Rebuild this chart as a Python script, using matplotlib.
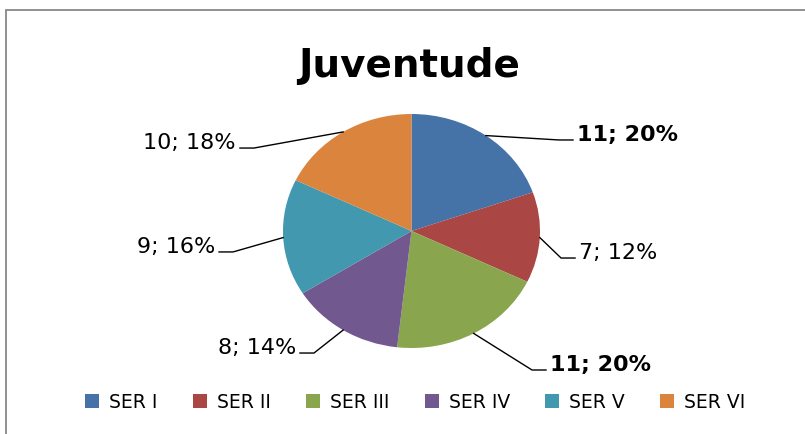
import numpy as np
import matplotlib
matplotlib.use('Agg')
import matplotlib.pyplot as plt
from matplotlib.patches import Rectangle

plt.rcParams['font.family'] = ['DejaVu Sans']

# data
series = ['SER I', 'SER II', 'SER III', 'SER IV', 'SER V', 'SER VI']
values = [11, 7, 11, 8, 9, 10]
percents = [20, 12, 20, 14, 16, 18]

colors = ['#4572A7', '#AA4643', '#89A54E', '#71588F', '#4198AF', '#DB843D']
bold = [True, False, True, False, False, False]
# where each label's text is anchored (pie axes units, radius = 1)
label_pos = [(1.288, 0.778), (1.304, -0.231), (1.078, -1.188),
             (-0.899, -1.043), (-1.529, -0.179), (-1.366, 0.709)]

fig = plt.figure(figsize=(8.05, 4.35), dpi=100)
W, H = 805, 435

# chart frame (only top and left edges are visible)
fig.patches.append(Rectangle((6 / W, -0.2), 1.2, (H - 11) / H + 0.2,
                             transform=fig.transFigure, fill=False,
                             edgecolor='#888888', lw=1.3))

fig.text(409 / W, 1 - 77 / H, 'Juventude', ha='center', va='baseline',
         fontsize=28, fontweight='bold')

ax = fig.add_axes([283 / W, (H - 349) / H, 257 / W, 234 / H])
wedges, _ = ax.pie(values, startangle=90, counterclock=False, colors=colors,
                   radius=1, center=(0, 0))
ax.set_aspect('auto')
ax.set_xlim(-1, 1)
ax.set_ylim(-1, 1)
ax.axis('off')

gap = 4 / 128.5
seg = 14 / 128.5
for w, v, p, (lx, ly), b in zip(wedges, values, percents, label_pos, bold):
    mid = np.deg2rad((w.theta1 + w.theta2) / 2)
    ax_, ay_ = np.cos(mid), np.sin(mid)
    side = 1 if lx > 0 else -1
    end_x = lx - side * gap
    elb_x = end_x - side * seg
    ax.plot([ax_, elb_x, end_x], [ay_, ly, ly], color='black', lw=1.0,
            clip_on=False)
    ax.text(lx, ly, f'{v}; {p}%', ha='left' if side > 0 else 'right',
            va='baseline', fontsize=16,
            fontweight='bold' if b else 'normal', clip_on=False)

fig.legend(wedges, series, loc='center', ncol=6,
           bbox_to_anchor=(415.5 / W, 1 - 403 / H), frameon=False,
           fontsize=13.5, handlelength=0.73, handleheight=0.73,
           handletextpad=0.55, columnspacing=1.88)

fig.savefig('out.png', dpi=100, facecolor='white')
